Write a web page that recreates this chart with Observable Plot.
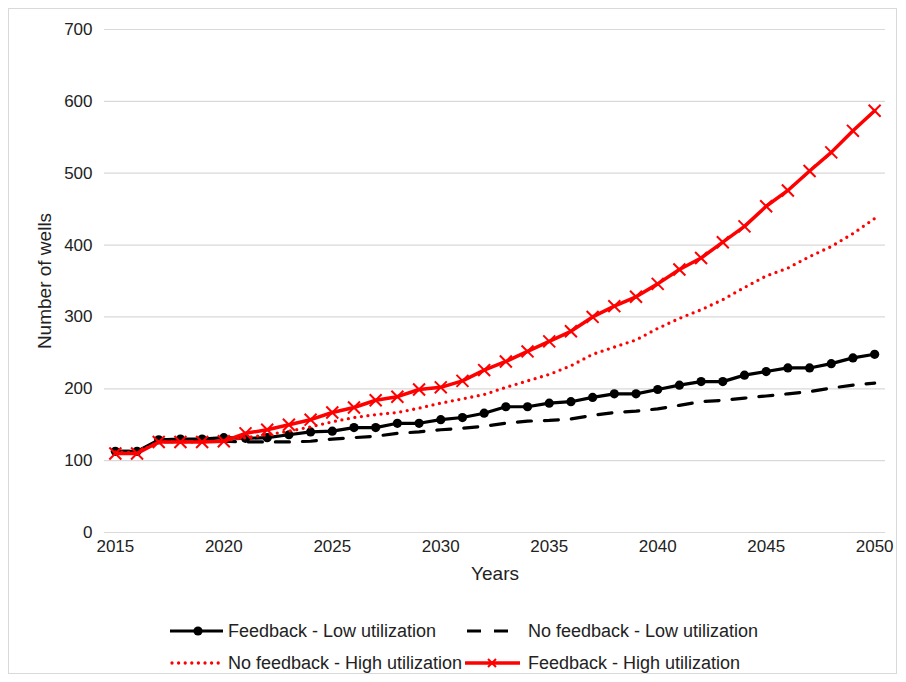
<!DOCTYPE html>
<html>
<head>
<meta charset="utf-8">
<script src="https://cdn.jsdelivr.net/npm/d3@7"></script>
<script src="https://cdn.jsdelivr.net/npm/@observablehq/plot@0.6"></script>
<style>
  html, body { margin: 0; padding: 0; background: #fff; }
  #wrap { position: relative; width: 906px; height: 682px; overflow: hidden; font-family: "Liberation Sans", Arial, sans-serif; color: #222; }
  #border { position: absolute; left: 8px; top: 8px; width: 889px; height: 666px; border: 1px solid #d9d9d9; box-sizing: border-box; }
  #chart { position: absolute; left: 0; top: 0; }
  .legsym { position: absolute; }
  .legtxt { position: absolute; font-size: 18px; line-height: 22px; color: #222; white-space: nowrap; }
</style>
</head>
<body>
<div id="wrap">
  <div id="border"></div>
  <div id="chart"></div>
</div>
<script>
const years = [2015,2016,2017,2018,2019,2020,2021,2022,2023,2024,2025,2026,2027,2028,2029,2030,2031,2032,2033,2034,2035,2036,2037,2038,2039,2040,2041,2042,2043,2044,2045,2046,2047,2048,2049,2050];
const feedbackLow = [113,113,129,130,130,132,131,132,136,140,141,146,146,152,152,157,160,166,175,175,180,182,188,193,193,199,205,210,210,219,224,229,229,235,243,248];
const noFeedbackLow = [113,113,126,127,127,127,126,126,126,127,130,132,134,138,140,143,145,148,152,155,156,158,163,167,169,172,177,182,184,187,190,193,196,201,205,208];
const noFeedbackHigh = [112,111,126,126,126,128,132,136,141,147,154,160,164,167,173,180,186,192,202,211,220,232,248,258,268,284,298,310,324,341,357,368,384,398,416,437];
const feedbackHigh = [110,110,126,126,126,127,138,143,150,157,167,174,184,189,199,202,211,226,238,252,266,280,300,315,328,346,366,382,404,426,454,476,503,529,559,587];
const seriesNames = ["Feedback - Low utilization","No feedback - Low utilization","No feedback - High utilization","Feedback - High utilization"];
const xTicks = [2015,2020,2025,2030,2035,2040,2045,2050];
const yTicks = [0,100,200,300,400,500,600,700];

const mk = (vals) => years.map((y, i) => ({year: y, value: vals[i]}));
const dFL = mk(feedbackLow), dNL = mk(noFeedbackLow), dNH = mk(noFeedbackHigh), dFH = mk(feedbackHigh);

const plot = Plot.plot({
  width: 906,
  height: 600,
  marginLeft: 104,
  marginRight: 21,
  marginTop: 29,
  marginBottom: 68,
  style: {fontFamily: "Liberation Sans, Arial, sans-serif", fontSize: "17px", color: "#222", background: "transparent"},
  x: {domain: [2014.5, 2050.5]},
  y: {domain: [0, 700]},
  marks: [
    Plot.ruleY(yTicks, {stroke: "#d9d9d9", strokeWidth: 1.2}),
    Plot.axisX({ticks: xTicks, tickSize: 0, tickPadding: 7, tickFormat: d => String(d), label: null, fontSize: 17}),
    Plot.axisY({ticks: yTicks, tickSize: 0, tickPadding: 12, label: null, fontSize: 17}),
    Plot.text(["Years"], {frameAnchor: "bottom", dy: 47, fontSize: 19, fill: "#222", textAnchor: "middle"}),
    Plot.text(["Number of wells"], {frameAnchor: "left", dx: -60, rotate: -90, fontSize: 19, fill: "#222", textAnchor: "middle"}),
    Plot.line(dNL, {x: "year", y: "value", stroke: "#000", strokeWidth: 3.2, strokeDasharray: "14,13"}),
    Plot.line(dFL, {x: "year", y: "value", stroke: "#000", strokeWidth: 3.2}),
    Plot.dot(dFL, {x: "year", y: "value", r: 4.6, fill: "#000", stroke: "none"}),
    Plot.line(dNH, {x: "year", y: "value", stroke: "#ff0000", strokeWidth: 3.3, strokeDasharray: "0,6.6", strokeLinecap: "round"}),
    Plot.line(dFH, {x: "year", y: "value", stroke: "#ff0000", strokeWidth: 3.5}),
    Plot.dot(dFH, {x: "year", y: "value", symbol: "times", r: 5.5, stroke: "#ff0000", strokeWidth: 2})
  ]
});
document.getElementById("chart").appendChild(plot);

// Legend
const wrap = document.getElementById("wrap");
const legendItems = [
  {name: seriesNames[0], symX: 170, textX: 228, cy: 631, kind: "dotline"},
  {name: seriesNames[1], symX: 467, textX: 528, cy: 631, kind: "dash"},
  {name: seriesNames[2], symX: 170, textX: 228, cy: 663, kind: "dotted"},
  {name: seriesNames[3], symX: 465, textX: 528, cy: 663, kind: "xline"}
];
const ns = "http://www.w3.org/2000/svg";
for (const it of legendItems) {
  const s = document.createElementNS(ns, "svg");
  s.setAttribute("class", "legsym");
  s.setAttribute("width", 56); s.setAttribute("height", 22);
  s.style.left = it.symX + "px";
  s.style.top = (it.cy - 11) + "px";
  let inner = "";
  if (it.kind === "dotline") {
    inner = '<line x1="0" y1="11" x2="53" y2="11" stroke="#000" stroke-width="3.2"/><circle cx="28" cy="11" r="4.6" fill="#000"/>';
  } else if (it.kind === "dash") {
    inner = '<line x1="0" y1="11" x2="48" y2="11" stroke="#000" stroke-width="3.2" stroke-dasharray="14,13"/>';
  } else if (it.kind === "dotted") {
    inner = '<line x1="2" y1="11" x2="50" y2="11" stroke="#ff0000" stroke-width="3.3" stroke-dasharray="0,6.6" stroke-linecap="round"/>';
  } else {
    inner = '<line x1="0" y1="11" x2="55" y2="11" stroke="#ff0000" stroke-width="3.5"/><path d="M23,7 L31,15 M31,7 L23,15" stroke="#ff0000" stroke-width="2"/>';
  }
  s.innerHTML = inner;
  wrap.appendChild(s);
  const t = document.createElement("div");
  t.className = "legtxt";
  t.textContent = it.name;
  t.style.left = it.textX + "px";
  t.style.top = (it.cy - 11) + "px";
  wrap.appendChild(t);
}
</script>
</body>
</html>
